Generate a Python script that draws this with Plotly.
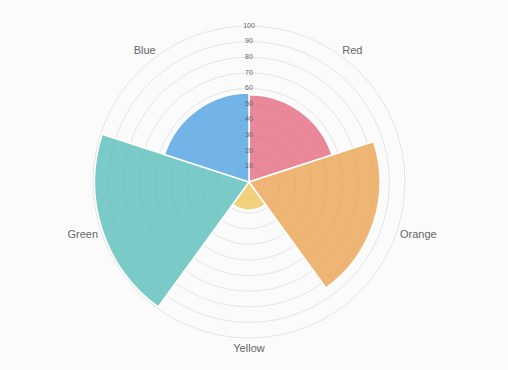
import plotly.graph_objects as go

labels = ["Red", "Orange", "Yellow", "Green", "Blue"]
values = [56, 84, 18, 99, 57]
colors = ["rgba(227,110,131,0.82)", "rgba(236,165,86,0.82)", "rgba(240,198,95,0.82)",
          "rgba(93,190,187,0.82)", "rgba(84,164,227,0.82)"]
tick_vals = [10, 20, 30, 40, 50, 60, 70, 80, 90, 100]

n = len(labels)
step = 360 / n
thetas = [step / 2 + i * step for i in range(n)]

fig = go.Figure()
fig.add_trace(go.Barpolar(
    r=values, theta=thetas, width=[step] * n,
    marker=dict(color=colors, line=dict(color="white", width=1.5)),
    hoverinfo="skip", showlegend=False,
))
fig.add_trace(go.Scatterpolar(
    r=tick_vals, theta=[0] * len(tick_vals), mode="text",
    text=[str(v) for v in tick_vals],
    textfont=dict(family="Liberation Sans, Arial", size=7, color="#666666"),
    hoverinfo="skip", showlegend=False,
))

fig.update_layout(
    width=508, height=370,
    margin=dict(l=0, r=0, t=0, b=0),
    paper_bgcolor="#fbfbfb",
    polar=dict(
        domain=dict(x=[93 / 508, 405 / 508], y=[32 / 370, 344 / 370]),
        bgcolor="rgba(0,0,0,0)",
        radialaxis=dict(range=[0, 100], tickvals=tick_vals, showticklabels=False,
                        ticks="", showline=False, gridcolor="rgba(0,0,0,0.09)",
                        gridwidth=1, layer="above traces"),
        angularaxis=dict(direction="clockwise", rotation=90, tickvals=thetas,
                         ticktext=labels, ticks="", showgrid=False,
                         showline=True, linecolor="rgba(0,0,0,0.09)", linewidth=1,
                         tickfont=dict(family="Liberation Sans, Arial", size=11, color="#666")),
    ),
)
fig.write_html("out.html", config={"displayModeBar": False},
               post_script="document.body.style.margin='0';document.body.style.background='#fbfbfb';")
